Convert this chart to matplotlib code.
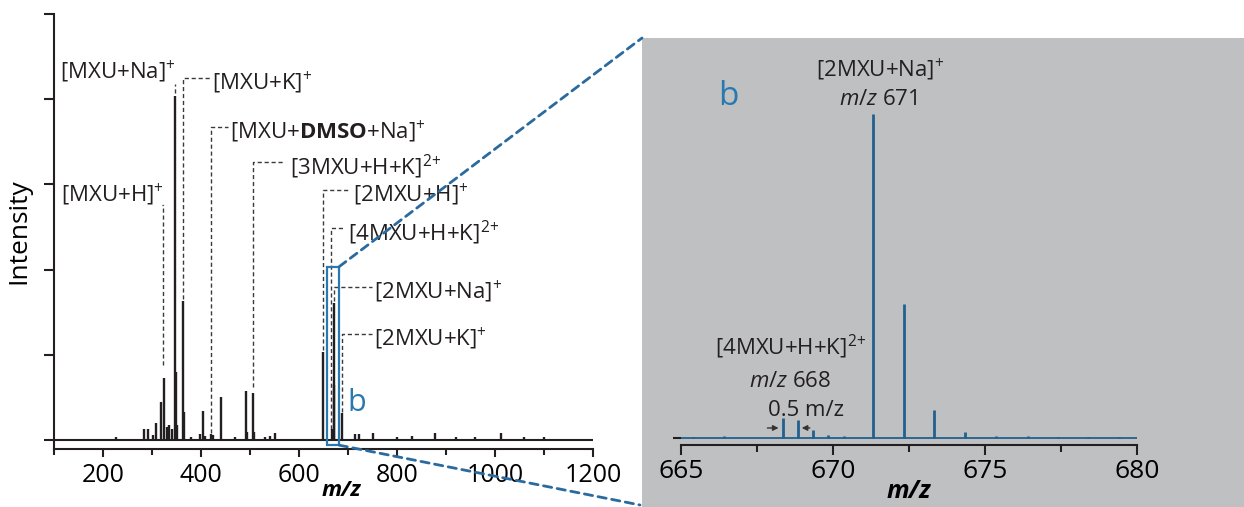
import matplotlib
matplotlib.use("Agg")
import matplotlib.pyplot as plt
from matplotlib.patches import Rectangle, ConnectionPatch

plt.rcParams['font.family'] = ['Open Sans', 'DejaVu Sans']
plt.rcParams['mathtext.fontset'] = 'custom'
plt.rcParams['mathtext.rm'] = 'Open Sans'
plt.rcParams['mathtext.it'] = 'Open Sans:italic'
plt.rcParams['mathtext.bf'] = 'Open Sans:bold'

# ---------------- data: full spectrum (m/z, relative intensity) ----------------
full_mz = [226, 283, 292, 302, 308, 318, 325, 330, 335, 340, 347, 349, 352, 363, 365,
           380, 398, 404, 408, 421, 425, 441, 470, 491, 493, 506, 508, 530, 540, 552,
           649, 668, 671, 672, 687, 715, 722, 750, 800, 830, 878, 920, 960, 1012, 1060, 1100]
full_int = [0.8, 2.6, 2.6, 1.2, 4.0, 8.9, 14.6, 3.0, 3.5, 2.5, 80.8, 16.0, 3.5, 32.6, 6.5,
            0.8, 1.5, 6.8, 1.0, 1.4, 1.2, 10.1, 0.7, 11.5, 2.0, 11.0, 2.0, 0.8, 1.0, 1.6,
            20.7, 2.5, 32.2, 13.0, 6.3, 1.4, 1.4, 1.6, 0.7, 1.0, 1.6, 0.8, 0.8, 1.7, 0.6, 0.6]

# annotations of the full spectrum
ann_labels = [r"[MXU+H]$^{+}$", r"[MXU+Na]$^{+}$", r"[MXU+K]$^{+}$",
              r"[MXU+$\mathbf{DMSO}$+Na]$^{+}$", r"[3MXU+H+K]$^{2}$$^{+}$", r"[2MXU+H]$^{+}$",
              r"[4MXU+H+K]$^{2}$$^{+}$", r"[2MXU+Na]$^{+}$", r"[2MXU+K]$^{+}$"]
ann_mz = [322, 347, 363, 420, 506, 649, 666, 671, 687]

# ---------------- data: zoomed spectrum ----------------
zoom_mz = [665.4, 666.4, 668.36, 668.86, 669.35, 669.85, 670.35, 671.32, 672.33,
           673.33, 674.34, 675.35, 676.4, 677.4, 678.4, 679.4]
zoom_int = [0.4, 0.6, 6.2, 5.6, 2.5, 0.9, 0.5, 100.0, 41.4,
            8.6, 1.9, 0.5, 0.7, 0.4, 0.4, 0.4]

dark = '#231f20'
blue_line = '#21608f'
blue_box = '#2a78b0'
gray_bg = '#bfc0c2'

W, H = 1244, 507
fig = plt.figure(figsize=(W / 100, H / 100), dpi=100)
fig.patch.set_facecolor('white')

def fx(px):
    return px / W

def fy(py):
    return 1 - py / H

# gray background of zoom panel
fig.patches.append(Rectangle((fx(642), 0), 1 - fx(642), fy(38), transform=fig.transFigure,
                             facecolor=gray_bg, edgecolor='none', zorder=-5))

# ---------------- left axes ----------------
ax1 = fig.add_axes([fx(54), fy(449), fx(593) - fx(54), fy(14) - fy(449)])
ax1.set_facecolor('none')
ax1.set_xlim(100, 1200)
ax1.set_ylim(-2.1, 100)
ax1.axhline(0, color=dark, lw=1.5, zorder=2)
ax1.vlines(full_mz, 0, full_int, color=dark, lw=1.7, zorder=2)
for s in ['top', 'right']:
    ax1.spines[s].set_visible(False)
for s in ['left', 'bottom']:
    ax1.spines[s].set_linewidth(1.5)
    ax1.spines[s].set_color(dark)
ax1.set_xticks(range(200, 1201, 200))
ax1.set_xticks(range(100, 1200, 200), minor=True)
ax1.set_yticks(range(0, 101, 20))
ax1.set_yticklabels([])
ax1.tick_params(axis='x', which='major', length=6, width=1.5, labelsize=18, color=dark, pad=4)
ax1.tick_params(axis='x', which='minor', length=4, width=1.5, color=dark)
ax1.tick_params(axis='y', length=7, width=1.5, color=dark)
ax1.set_ylabel('Intensity', fontsize=19, labelpad=6)
fig.text(fx(341), fy(490), 'm/z', fontsize=16,
         fontweight='bold', fontstyle='italic', ha='center', va='center')

# leader lines: (bottom, corner_y, hline_end, text_x, text_y, ha)
leader_geom = [
    (17.6, 55.2, 321, 324, 57.5, 'right'),
    (81.5, 83.5, 347, 349, 86.5, 'right'),
    (33.2, 85.0, 418, 422, 83.8, 'left'),
    (1.6, 73.5, 455, 459, 72.3, 'left'),
    (12.4, 65.3, 571, 581, 64.1, 'left'),
    (21.2, 58.7, 704, 710, 57.5, 'left'),
    (2.6, 49.8, 694, 700, 48.6, 'left'),
    (32.6, 35.9, 749, 753, 34.7, 'left'),
    (6.6, 24.9, 749, 753, 23.7, 'left'),
]
for lab, mz, (yb, yc, xe, tx, ty, ha) in zip(ann_labels, ann_mz, leader_geom):
    ax1.plot([mz, mz, xe], [yb, yc, yc], ls=(0, (3, 2)), color='#3a3a3a', lw=1.0, zorder=1)
    ax1.text(tx, ty, lab, fontsize=16, ha=ha, va='center', color=dark)

# zoom box
box_x0, box_x1 = 657, 682
box_y0, box_y1 = -1.2, 40.7
ax1.add_patch(Rectangle((box_x0, box_y0), box_x1 - box_x0, box_y1 - box_y0,
                        fill=False, edgecolor=blue_box, lw=1.6, zorder=3, clip_on=False))
ax1.text(718, 8.7, 'b', fontsize=22, color=blue_box, ha='center', va='center')

# ---------------- right axes ----------------
ax2 = fig.add_axes([fx(681), fy(445), fx(1137) - fx(681), fy(40) - fy(445)])
ax2.set_facecolor('none')
ax2.set_xlim(665, 680)
ax2.set_ylim(-2.16, 122.8)
ax2.axhline(0, color=blue_line, lw=1.3, zorder=2)
ax2.vlines(zoom_mz, 0, zoom_int, color=blue_line, lw=2.0, zorder=2)
for s in ['top', 'right', 'left']:
    ax2.spines[s].set_visible(False)
ax2.spines['bottom'].set_linewidth(1.5)
ax2.spines['bottom'].set_color(dark)
ax2.set_xticks([665, 670, 675, 680])
ax2.set_xticks([667.5, 672.5, 677.5], minor=True)
ax2.set_yticks([0])
ax2.set_yticklabels([])
ax2.tick_params(axis='x', which='major', length=7, width=1.5, labelsize=19, color=dark, pad=3)
ax2.tick_params(axis='x', which='minor', length=5, width=1.5, color=dark)
ax2.tick_params(axis='y', length=6, width=1.5, color=dark)
fig.text(fx(909), fy(491), 'm/z', fontsize=18, fontweight='bold', fontstyle='italic',
         ha='center', va='center')

ax2.text(671.55, 113.6, r"[2MXU+Na]$^{+}$", fontsize=16, ha='center', va='center', color=dark)
ax2.text(671.5, 104.3, r"$m/z$ 671", fontsize=16, ha='center', va='center', color=dark)
ax2.text(666.55, 105.5, 'b', fontsize=24, color=blue_box, ha='center', va='center')
ax2.text(668.6, 28.1, r"[4MXU+H+K]$^{2}$$^{+}$", fontsize=16, ha='center', va='center', color=dark)
ax2.text(668.6, 17.3, r"$m/z$ 668", fontsize=16, ha='center', va='center', color=dark)
ax2.text(669.1, 8.6, "0.5 m/z", fontsize=16, ha='center', va='center', color=dark)
ax2.annotate('', xy=(668.3, 3.1), xytext=(667.75, 3.1),
             arrowprops=dict(arrowstyle='-|>', color='#333333', lw=1.0, mutation_scale=8))
ax2.annotate('', xy=(668.88, 3.1), xytext=(669.33, 3.1),
             arrowprops=dict(arrowstyle='-|>', color='#333333', lw=1.0, mutation_scale=8))

# connector lines
for (xa, ya), (xb, yb) in [((box_x1, box_y1), (fx(642), fy(38))),
                           ((box_x1, box_y0), (fx(640), fy(505)))]:
    con = ConnectionPatch(xyA=(xa, ya), coordsA=ax1.transData, xyB=(xb, yb),
                          coordsB=fig.transFigure, ls=(0, (3, 2)), color='#2a6a9e', lw=2.0,
                          zorder=5)
    fig.add_artist(con)

fig.savefig('out.png', dpi=100)
